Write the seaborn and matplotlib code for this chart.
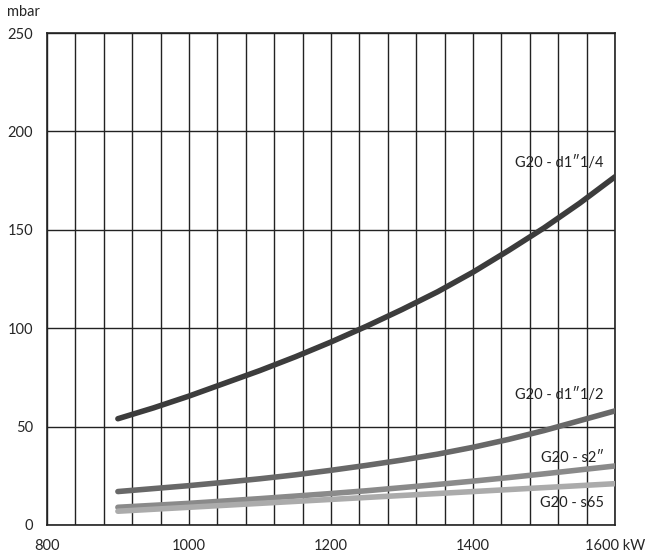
import pandas as pd
import seaborn as sns
import matplotlib.pyplot as plt

# Données (puissance en kW, perte de charge en mbar)
puissance = [900, 950, 1000, 1050, 1100, 1150, 1200, 1250, 1300, 1350, 1400,
             1450, 1500, 1550, 1600]
d1_1_4 = [54, 59.5, 65.5, 72, 78.5, 85.5, 93, 101, 109.5, 118.5, 128.5, 139.5,
          151, 163.5, 177]
d1_1_2 = [17, 18.5, 20, 21.7, 23.5, 25.5, 27.8, 30.3, 33, 36, 39.5, 43.5, 48,
          53, 58]
s2 = [9, 10, 11, 12.2, 13.4, 14.7, 16, 17.4, 19, 20.6, 22.3, 24.1, 26, 28, 30]
s65 = [7, 8, 9, 10, 11, 12, 13, 14, 15, 16, 17, 18, 19, 20, 21]

noms = ["G20 - d1\u20331/4", "G20 - d1\u20331/2", "G20 - s2\u2033", "G20 - s65"]
couleurs = ["#3c3c3c", "#686868", "#8a8a8a", "#ababab"]
pos_labels = [184, 66, 34, 11]

df = pd.DataFrame({
    "kW": puissance * 4,
    "mbar": d1_1_4 + d1_1_2 + s2 + s65,
    "courbe": sum([[n] * len(puissance) for n in noms], []),
})

sns.set_style("white")
plt.rcParams["font.family"] = ["Lato", "DejaVu Sans"]

fig = plt.figure(figsize=(6.6, 5.6), dpi=100)
ax = fig.add_axes([0.071, 0.0625, 0.861, 0.8785])

# grille
for x in range(800, 1601, 40):
    ax.axvline(x, color="#222222", lw=1, zorder=0)
for y in range(0, 251, 50):
    ax.axhline(y, color="#222222", lw=1, zorder=0)

sns.lineplot(data=df, x="kW", y="mbar", hue="courbe", palette=couleurs,
             lw=4, legend=False, ax=ax, zorder=3)

for n, yl in zip(noms, pos_labels):
    ax.text(1584, yl, n, ha="right", va="center", fontsize=10.5, color="#222222",
            zorder=4)

ax.set_xlim(800, 1600)
ax.set_ylim(0, 250)
ax.set_xticks([800, 1000, 1200, 1400, 1600])
ax.set_xticklabels(["800", "1000", "1200", "1400", "1600 kW"])
ax.set_yticks([0, 50, 100, 150, 200, 250])
ax.tick_params(axis="both", length=0, labelsize=10.5, pad=10)
ax.set_xlabel("")
ax.set_ylabel("")
for s in ax.spines.values():
    s.set_color("#222222")
    s.set_linewidth(1.2)
ax.text(-0.07, 1.035, "mbar", transform=ax.transAxes, fontsize=10.5, ha="left")

plt.savefig("out.png", dpi=100)
